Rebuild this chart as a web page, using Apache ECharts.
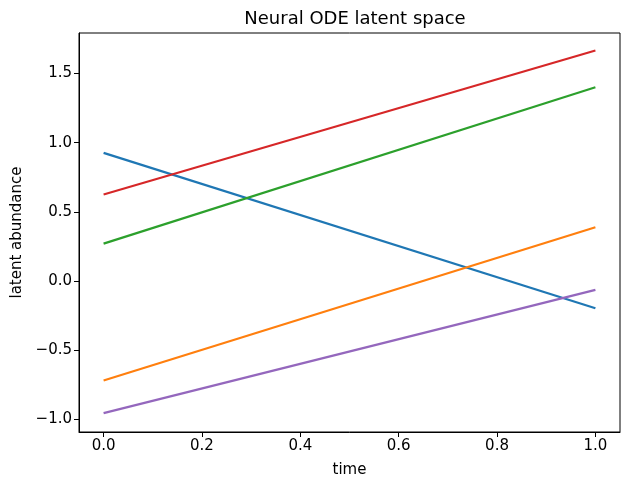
<!DOCTYPE html>
<html>
<head>
<meta charset="utf-8">
<script src="https://cdn.jsdelivr.net/npm/echarts@6/dist/echarts.min.js"></script>
<style>html,body{margin:0;padding:0;background:#fff}#c{width:621px;height:483px}</style>
</head>
<body>
<div id="c"></div>
<script>
var times = [0.0, 1.0];
var latent0 = [0.926, -0.197];
var latent1 = [-0.72, 0.388];
var latent2 = [0.27, 1.401];
var latent3 = [0.625, 1.666];
var latent4 = [-0.956, -0.064];
var xTicks = [0, 0.2, 0.4, 0.6, 0.8, 1.0];
var yTicks = [-1.0, -0.5, 0.0, 0.5, 1.0, 1.5];
var colors = ['#1f77b4', '#ff7f0e', '#2ca02c', '#d62728', '#9467bd'];
var seriesVals = [latent0, latent1, latent2, latent3, latent4];

function pairs(v){ return times.map(function(t,i){ return [t, v[i]]; }); }
function fmt(v){ var s = Math.abs(v).toFixed(1); return (v < -1e-9 ? '\u2212' : '') + s; }

var font = 'DejaVu Sans';
var chart = echarts.init(document.getElementById('c'), null, {renderer:'canvas'});
chart.setOption({
  animation: false,
  textStyle: {fontFamily: font},
  title: {text: 'Neural ODE latent space', left: 350, top: 5, textAlign: 'center',
    textStyle: {fontFamily: font, fontSize: 18, fontWeight: 'normal', color: '#000'}},
  grid: {left: 79, right: 1, top: 33, bottom: 44, show: true, borderColor: '#000', borderWidth: 1, backgroundColor: 'transparent'},
  xAxis: {
    type: 'value', min: -0.05, max: 1.05,
    name: 'time', nameLocation: 'middle', nameGap: 31,
    nameTextStyle: {fontFamily: font, fontSize: 15, color: '#000'},
    axisLine: {show: true, onZero: false, lineStyle: {color: '#000', width: 1}},
    axisTick: {show: true, length: 5, inside: false, lineStyle: {color: '#000'}, customValues: xTicks},
    axisLabel: {fontFamily: font, fontSize: 15, color: '#000', margin: 7, customValues: xTicks, formatter: fmt},
    splitLine: {show: false}
  },
  yAxis: {
    type: 'value', min: -1.092, max: 1.793,
    name: 'latent abundance', nameLocation: 'middle', nameGap: 54, nameRotate: 90,
    nameTextStyle: {fontFamily: font, fontSize: 15, color: '#000'},
    axisLine: {show: true, onZero: false, lineStyle: {color: '#000', width: 1}},
    axisTick: {show: true, length: 5, inside: false, lineStyle: {color: '#000'}, customValues: yTicks},
    axisLabel: {fontFamily: font, fontSize: 15, color: '#000', margin: 7, customValues: yTicks, formatter: fmt},
    splitLine: {show: false}
  },
  series: seriesVals.map(function(v, i){
    return {type: 'line', data: pairs(v), symbol: 'none', lineStyle: {color: colors[i], width: 2.2}, itemStyle: {color: colors[i]}, z: 2 + i};
  })
});
</script>
</body>
</html>
